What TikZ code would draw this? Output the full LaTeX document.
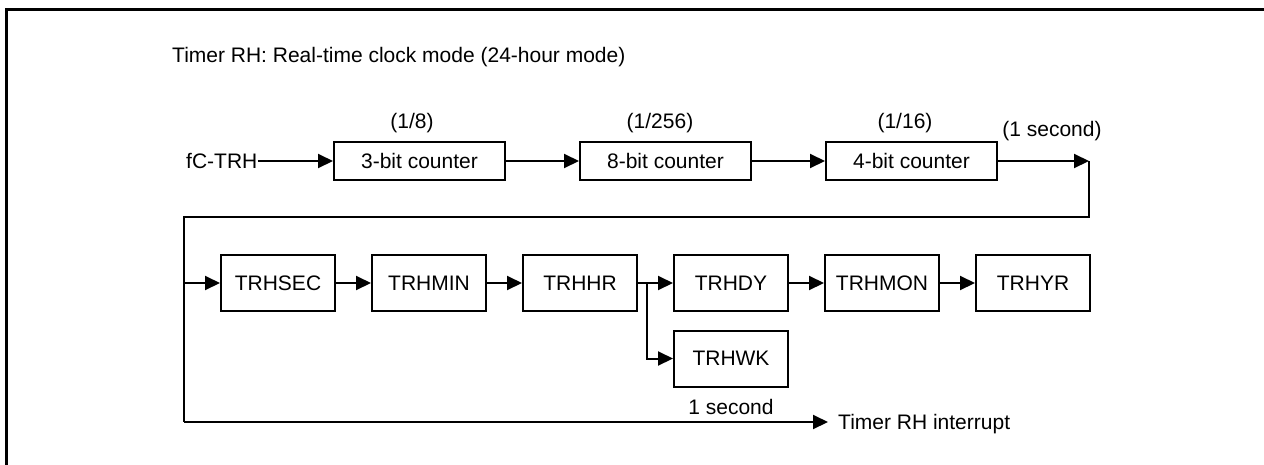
\documentclass[tikz,border=0pt]{standalone}
\usepackage{fontspec}
\setmainfont{Liberation Sans}
\usetikzlibrary{arrows.meta}
\begin{document}
\begin{tikzpicture}[x=1pt,y=-1pt,
  every node/.style={font=\fontsize{21}{24}\selectfont, inner sep=0pt},
  block/.style={draw, line width=2pt, minimum height=38pt},
  wide/.style={block, minimum width=171pt},
  reg/.style={block, minimum width=114pt, minimum height=56pt},
  wire/.style={line width=2pt},
  flow/.style={wire, -{Triangle[length=15pt,width=14pt]}},
  lbl/.style={}]
\useasboundingbox (0,0) rectangle (1264,464);
% outer frame
\draw[line width=3pt] (6,470) -- (6,9.5) -- (1270,9.5);

% title
\node[anchor=west] (title) at (172,57) {Timer RH: Real-time clock mode (24-hour mode)};

% prescaler chain
\node[anchor=west] (src) at (186,161) {fC-TRH};
\node[wide] (c3) at (419.5,161) {3-bit counter};
\node[wide] (c8) at (665.5,161) {8-bit counter};
\node[wide] (c4) at (911.5,161) {4-bit counter};
\node (d8) at (412,123) {(1/8)};
\node (d256) at (660,123) {(1/256)};
\node (d16) at (905,123) {(1/16)};
\node (sec) at (1052,131) {(1 second)};

\draw[flow] (src.east) -- (c3.west);
\draw[flow] (c3.east) -- (c8.west);
\draw[flow] (c8.east) -- (c4.west);
\coordinate (tick) at (1089,161);
\draw[flow] (c4.east) -- (tick);

% time registers
\node[reg] (rsec) at (278,283) {TRHSEC};
\node[reg] (rmin) at (429,283) {TRHMIN};
\node[reg] (rhr)  at (580,283) {TRHHR};
\node[reg] (rdy)  at (731,283) {TRHDY};
\node[reg] (rmon) at (882,283) {TRHMON};
\node[reg] (ryr)  at (1033,283) {TRHYR};
\node[reg] (rwk)  at (731,358.5) {TRHWK};
\node (onesec) at (731,407) {1 second};
\node[anchor=west] (irq) at (838,424) {Timer RH interrupt};

% one-second bus
\coordinate (turn) at (1089,217);
\coordinate (busTop) at (184,217);
\coordinate (busIn) at (184,283);
\coordinate (busBot) at (184,422);
\coordinate (irqTip) at (828,422);
\draw[wire] (tick) -- (turn) -- (busTop) -- (busBot);
\draw[flow] (busIn) -- (rsec.west);
\draw[flow] (busBot) -- (irqTip);

% register chain
\draw[flow] (rsec.east) -- (rmin.west);
\draw[flow] (rmin.east) -- (rhr.west);
\coordinate (split) at (646.5,283);
\draw[flow] (rhr.east) -- (rdy.west);
\draw[flow] (split) |- (rwk.west);
\draw[flow] (rdy.east) -- (rmon.west);
\draw[flow] (rmon.east) -- (ryr.west);
\end{tikzpicture}
\end{document}
